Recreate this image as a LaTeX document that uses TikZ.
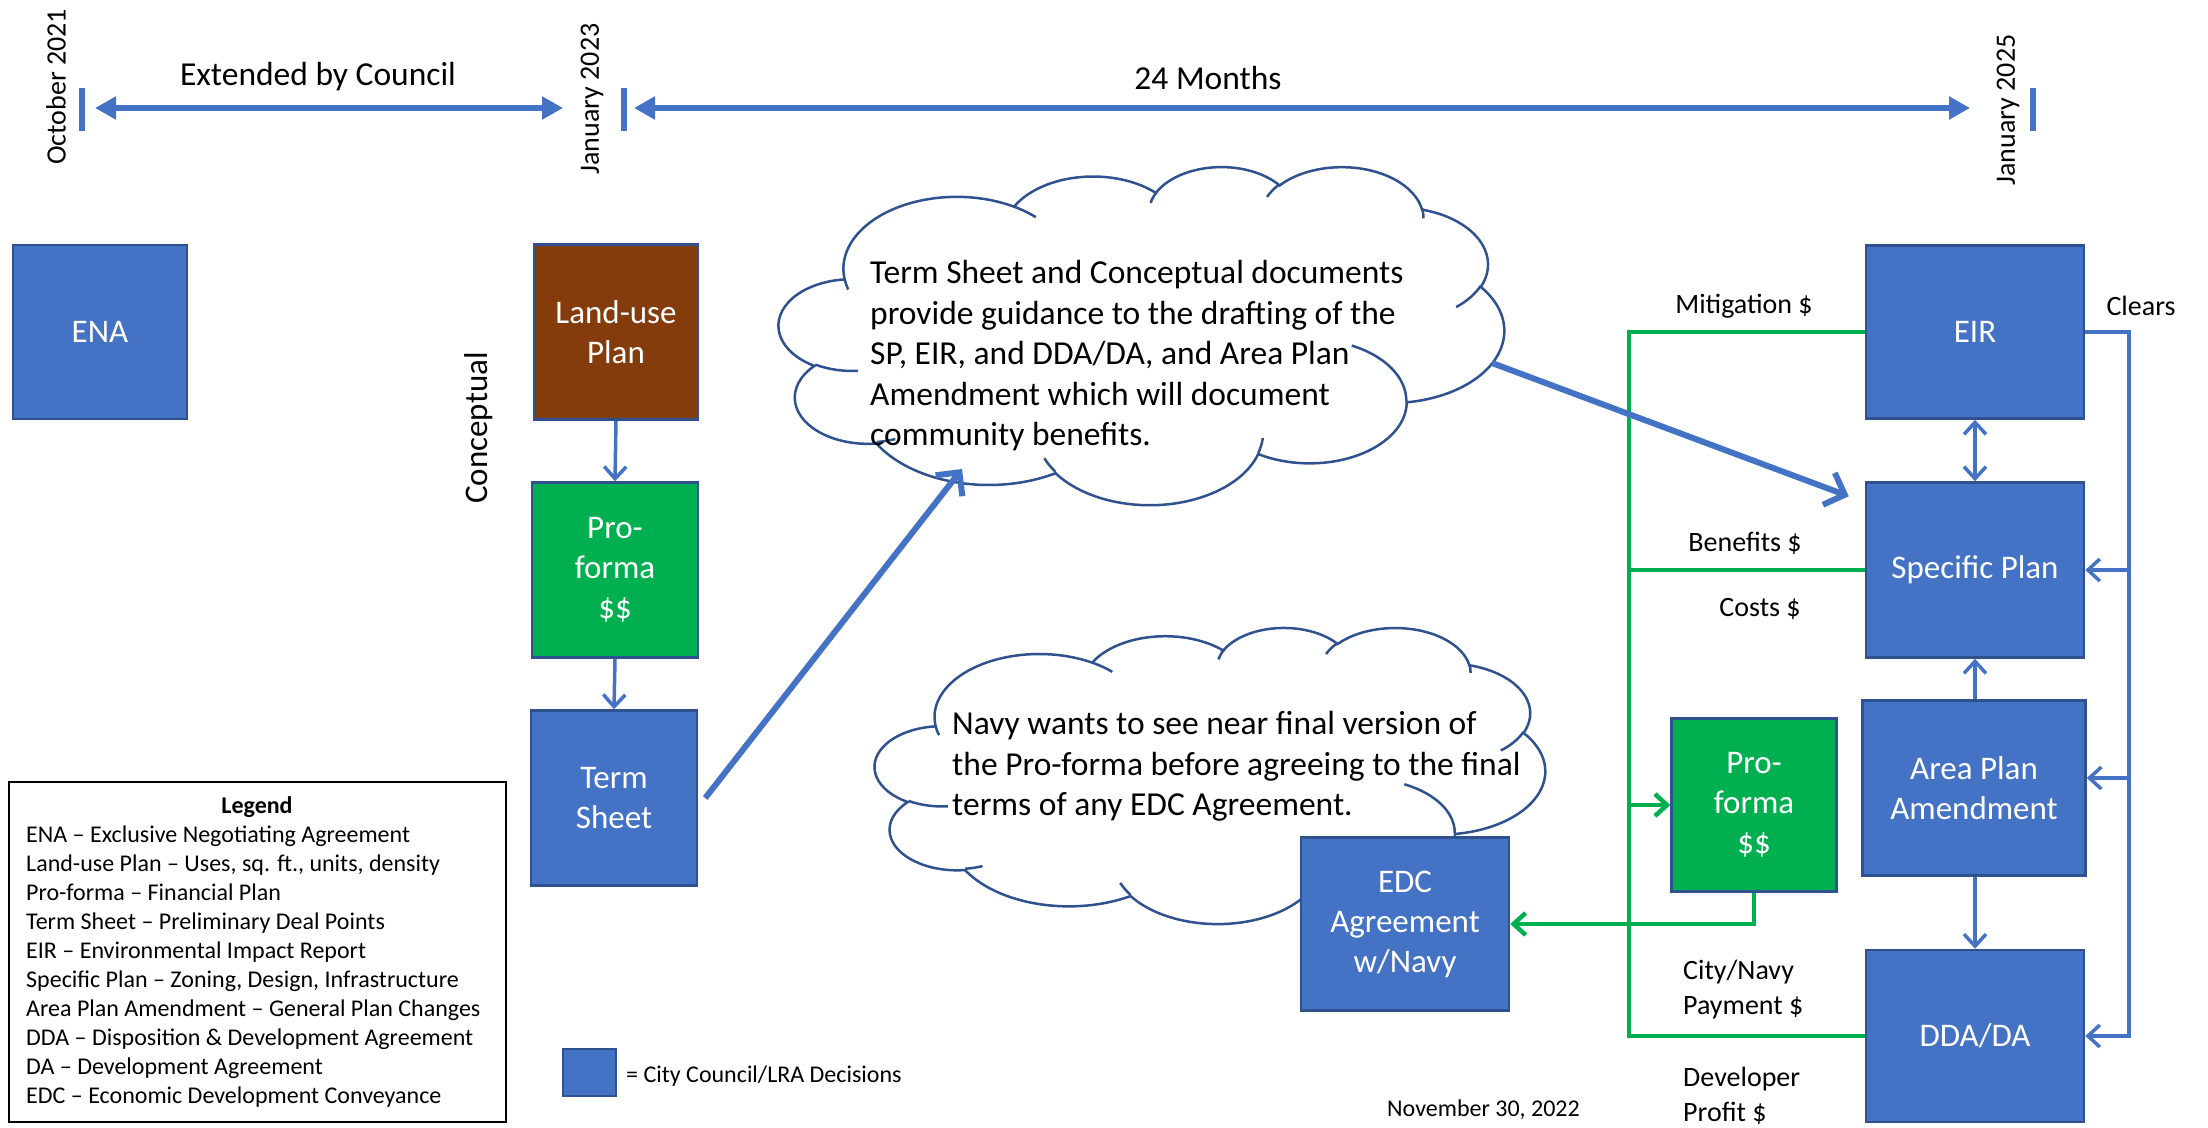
\documentclass[tikz,border=0pt]{standalone}
\usepackage{fontspec}
\setmainfont{Carlito}
\usetikzlibrary{arrows.meta}

\definecolor{ppblue}{HTML}{4472C4}
\definecolor{boxedge}{HTML}{2F528F}
\definecolor{ppgreen}{HTML}{00B050}
\definecolor{ppbrown}{HTML}{843C0C}

\newcommand\boxfont{\fontsize{33}{40}\selectfont}
\newcommand\notefont{\fontsize{33.5}{40.5}\selectfont}
\newcommand\tagfont{\fontsize{28}{35}\selectfont}
\newcommand\keyfont{\fontsize{24}{29}\selectfont}

% Elliptical puff arcs of the cloud outline. Start and sweep are given as
% visual angles (y pointing down) and turned into parametric arc angles.
\newcommand\defcloudarc[5]{%
  \pgfmathsetmacro\cldS{atan2((#2)*sin(#4),(#3)*cos(#4))}%
  \pgfmathsetmacro\cldE{atan2((#2)*sin((#4)+(#5)),(#3)*cos((#4)+(#5)))}%
  \pgfmathsetmacro\cldD{mod(\cldE-(\cldS)+720,360)}%
  \expandafter\xdef\csname cloudarc#1\endcsname{arc[x radius=#2, y radius=#3, start angle=\cldS, delta angle=\cldD]}%
}
% outline
\defcloudarc{OA}{67.53}{91.90}{-190.4875}{123.7805}
\defcloudarc{OB}{53.33}{72.67}{-144.1024}{89.9452}
\defcloudarc{OC}{43.65}{59.45}{-145.8079}{99.7230}
\defcloudarc{OD}{48.57}{65.95}{-130.9861}{117.2417}
\defcloudarc{OE}{53.33}{72.73}{-78.7089}{109.0269}
\defcloudarc{OF}{67.75}{92.20}{-46.2673}{130.2690}
\defcloudarc{OG}{57.85}{78.67}{0.6250}{114.0333}
\defcloudarc{OH}{67.52}{92.15}{22.4516}{115.1726}
\defcloudarc{OI}{77.20}{105.43}{66.2426}{75.7110}
\defcloudarc{OJ}{43.60}{59.18}{-274.9421}{146.7356}
\defcloudarc{OK}{43.45}{59.45}{-246.8285}{152.5225}
% inner curls
\defcloudarc{IA}{43.45}{59.45}{86.7420}{26.4295}
\defcloudarc{IB}{43.60}{59.18}{73.6105}{11.4475}
\defcloudarc{IC}{67.52}{92.15}{137.6242}{14.0811}
\defcloudarc{ID}{67.52}{92.15}{6.4533}{15.9984}
\defcloudarc{IE}{57.85}{78.67}{-70.2924}{70.9174}
\defcloudarc{IF}{53.33}{72.73}{30.3180}{27.7515}
\defcloudarc{IG}{48.57}{65.95}{-13.7443}{14.8507}
\defcloudarc{IH}{48.57}{65.95}{-149.1815}{18.1976}
\defcloudarc{II}{43.65}{59.45}{-163.4943}{17.6849}
\defcloudarc{IJ}{67.53}{91.90}{-66.7070}{12.3194}
\defcloudarc{IK}{67.53}{91.90}{157.6544}{11.8582}

% cloud in a box: left, top, width, height
\newcommand\pptcloud[4]{%
  \begin{scope}[shift={(#1,#2)}, x={({#3/432*1pt},0pt)}, y={(0pt,{-#4/432*1pt})}]
    \filldraw[cloudline, fill=white] (39,143.70)
      \cloudarcOA \cloudarcOB \cloudarcOC \cloudarcOD \cloudarcOE \cloudarcOF
      \cloudarcOG \cloudarcOH \cloudarcOI \cloudarcOJ \cloudarcOK -- cycle;
    \draw[cloudline]
      (46.93,261.77) \cloudarcIA (69.28,348.99) \cloudarcIB
      (164.78,390.90) \cloudarcIC (288.27,347.51) \cloudarcID
      (341.29,229.54) \cloudarcIE (417.98,153.54) \cloudarcIF
      (383.24,54.26) \cloudarcIG (290.78,39.52) \cloudarcIH
      (221.41,47.20) \cloudarcII (140.00,51.92) \cloudarcIJ
      (41.27,157.89) \cloudarcIK;
  \end{scope}}

\begin{document}
\begin{tikzpicture}[x=1pt, y=-1pt,
  vbarb/.tip={Straight Barb[length=12pt,width=22pt]},
  wbarb/.tip={Straight Barb[length=17pt,width=34pt]},
  tri/.tip={Triangle[length=21pt,width=22pt]},
  decision/.style={draw=boxedge, line width=2.5pt, fill=ppblue, text=white,
    font=\boxfont, align=center, inner sep=0pt},
  cloudline/.style={draw=boxedge, line width=2.5pt},
  bline/.style={ppblue, line width=3.5pt},
  gline/.style={ppgreen, line width=4.5pt},
  bigarrow/.style={ppblue, line width=6pt, -wbarb},
  timespan/.style={ppblue, line width=5.5pt, tri-tri},
  timetick/.style={ppblue, line width=5.5pt},
  txt/.style={inner sep=0pt, text=black},
]
\useasboundingbox (0,0) rectangle (2208,1127);

% ---------- time line ----------
\node[txt, rotate=90, font=\tagfont] (oct21) at (56,87) {October 2021};
\node[txt, rotate=90, font=\tagfont] (jan23) at (592,99) {January 2023};
\node[txt, rotate=90, font=\tagfont] (jan25) at (2008,110) {January 2025};
\draw[timetick] (82,88) -- (82,131);
\draw[timetick] (624,88) -- (624,131);
\draw[timetick] (2033,88) -- (2033,131);
\coordinate (s1a) at (95,108);
\coordinate (s1b) at (563,108);
\coordinate (s2a) at (634,108);
\coordinate (s2b) at (1970,108);
\draw[timespan] (s1a) -- (s1b);
\draw[timespan] (s2a) -- (s2b);
\node[txt, font=\notefont, anchor=base] (extended) at (318,85) {Extended by Council};
\node[txt, font=\notefont, anchor=base] (months) at (1208,89) {24 Months};

% ---------- notes ----------
\pptcloud{779}{166}{725}{338}
\pptcloud{875}{627}{670}{296}
\node[txt, font=\notefont, anchor=north west, align=left] (note1) at (870,255)
  {\strut Term Sheet and Conceptual documents\\provide guidance to the drafting of the\\SP, EIR, and DDA/DA, and Area Plan\\Amendment which will document\\community benefits.};
\node[txt, font=\notefont, anchor=north west, align=left] (note2) at (952,706)
  {\strut Navy wants to see near final version of\\the Pro-forma before agreeing to the final\\terms of any EDC Agreement.};
\coordinate (note1in) at (962,469);
\coordinate (note1out) at (1492,363);

% ---------- conceptual column ----------
\node[decision, minimum width=174pt, minimum height=174pt] (ena) at (100,332) {ENA};
\node[decision, fill=ppbrown, minimum width=164pt, minimum height=175pt] (landuse) at (616,332) {Land-use\\Plan};
\node[decision, fill=ppgreen, minimum width=166pt, minimum height=175pt] (pfleft) at (615,570) {Pro-\\forma\\\$\$};
\node[decision, minimum width=166pt, minimum height=175pt] (term) at (614,798) {Term\\Sheet};
\node[txt, rotate=90, font=\boxfont] (conceptual) at (479,428) {Conceptual};
\draw[bline, -vbarb] (landuse.south) -- (pfleft.north);
\draw[bline, -vbarb] (pfleft.south) -- (term.north);

% ---------- decision column ----------
\node[decision, minimum width=218pt, minimum height=173pt] (eir) at (1975,332) {EIR};
\node[decision, minimum width=218pt, minimum height=175pt] (sp) at (1975,570) {Specific Plan};
\node[decision, minimum width=223pt, minimum height=175pt] (area) at (1974,788) {Area Plan\\Amendment};
\node[decision, minimum width=218pt, minimum height=172pt] (dda) at (1975,1036) {DDA/DA};
\node[decision, fill=ppgreen, minimum width=165pt, minimum height=173pt] (pfright) at (1754,805) {Pro-\\forma\\\$\$};
\node[decision, minimum width=208pt, minimum height=173pt] (edc) at (1405,924) {EDC\\Agreement\\w/Navy};

\draw[bline, vbarb-vbarb] (eir.south) -- (sp.north);
\draw[bline, -vbarb] (area.north -| sp.south) -- (sp.south);
\draw[bline, -vbarb] (area.south -| dda.north) -- (dda.north);

% clearance path on the right
\coordinate (clrtop) at (2129,332);
\coordinate (clrbot) at (2129,1036);
\coordinate (areain) at ([yshift=10pt]area.east);
\draw[bline, -vbarb] (eir.east) -- (clrtop) -- (clrbot) -- (dda.east);
\draw[bline, -vbarb] (sp.east -| clrtop) -- (sp.east);
\draw[bline, -vbarb] (areain -| clrtop) -- (areain);
\node[txt, font=\tagfont, anchor=base] (clears) at (2141,315) {Clears};

% money flows
\coordinate (gtop) at (1629,332);
\coordinate (gbot) at (1629,1036);
\draw[gline] (eir.west) -- (gtop) -- (gbot) -- (dda.west);
\draw[gline] (sp.west) -- (sp.west -| gtop);
\draw[gline, -vbarb] (pfright.west -| gtop) -- (pfright.west);
\draw[gline, -vbarb] (pfright.south) |- (edc.east);
\node[txt, font=\tagfont, anchor=base] (mitig) at (1744,313) {Mitigation \$};
\node[txt, font=\tagfont, anchor=base] (benef) at (1745,551) {Benefits \$};
\node[txt, font=\tagfont, anchor=base] (costs) at (1760,616) {Costs \$};
\node[txt, font=\tagfont, anchor=north west, align=left] (paym) at (1683,954.5) {\strut City/Navy\\Payment \$};
\node[txt, font=\tagfont, anchor=north west, align=left] (profit) at (1683,1061.5) {\strut Developer\\Profit \$};

% guidance arrows
\draw[bigarrow] ([xshift=7pt]term.east) -- (note1in);
\draw[bigarrow] (note1out) -- ([shift={(-16,15)}]sp.north west);

% ---------- legend ----------
\node[draw=black, line width=2.2pt, minimum width=497pt, minimum height=340pt, inner sep=0pt] (legend) at (257.5,952) {};
\node[txt, font=\keyfont\bfseries, anchor=base] (legendtitle) at (257,813) {Legend};
\node[txt, font=\keyfont, anchor=north west, align=left] (legendbody) at (26,821.7)
  {\strut ENA – Exclusive Negotiating Agreement\\
   Land-use Plan – Uses, sq. ft., units, density\\
   Pro-forma – Financial Plan\\
   Term Sheet – Preliminary Deal Points\\
   EIR – Environmental Impact Report\\
   Specific Plan – Zoning, Design, Infrastructure\\
   Area Plan Amendment – General Plan Changes\\
   DDA – Disposition \& Development Agreement\\
   DA – Development Agreement\\
   EDC – Economic Development Conveyance};
\node[decision, minimum width=53pt, minimum height=47pt] (swatch) at (589.5,1072.5) {};
\node[txt, font=\keyfont, anchor=base west] (swatchtext) at (626,1082) {= City Council/LRA Decisions};
\node[txt, font=\keyfont, anchor=base west] (date) at (1387,1116) {November 30, 2022};
\end{tikzpicture}
\end{document}
